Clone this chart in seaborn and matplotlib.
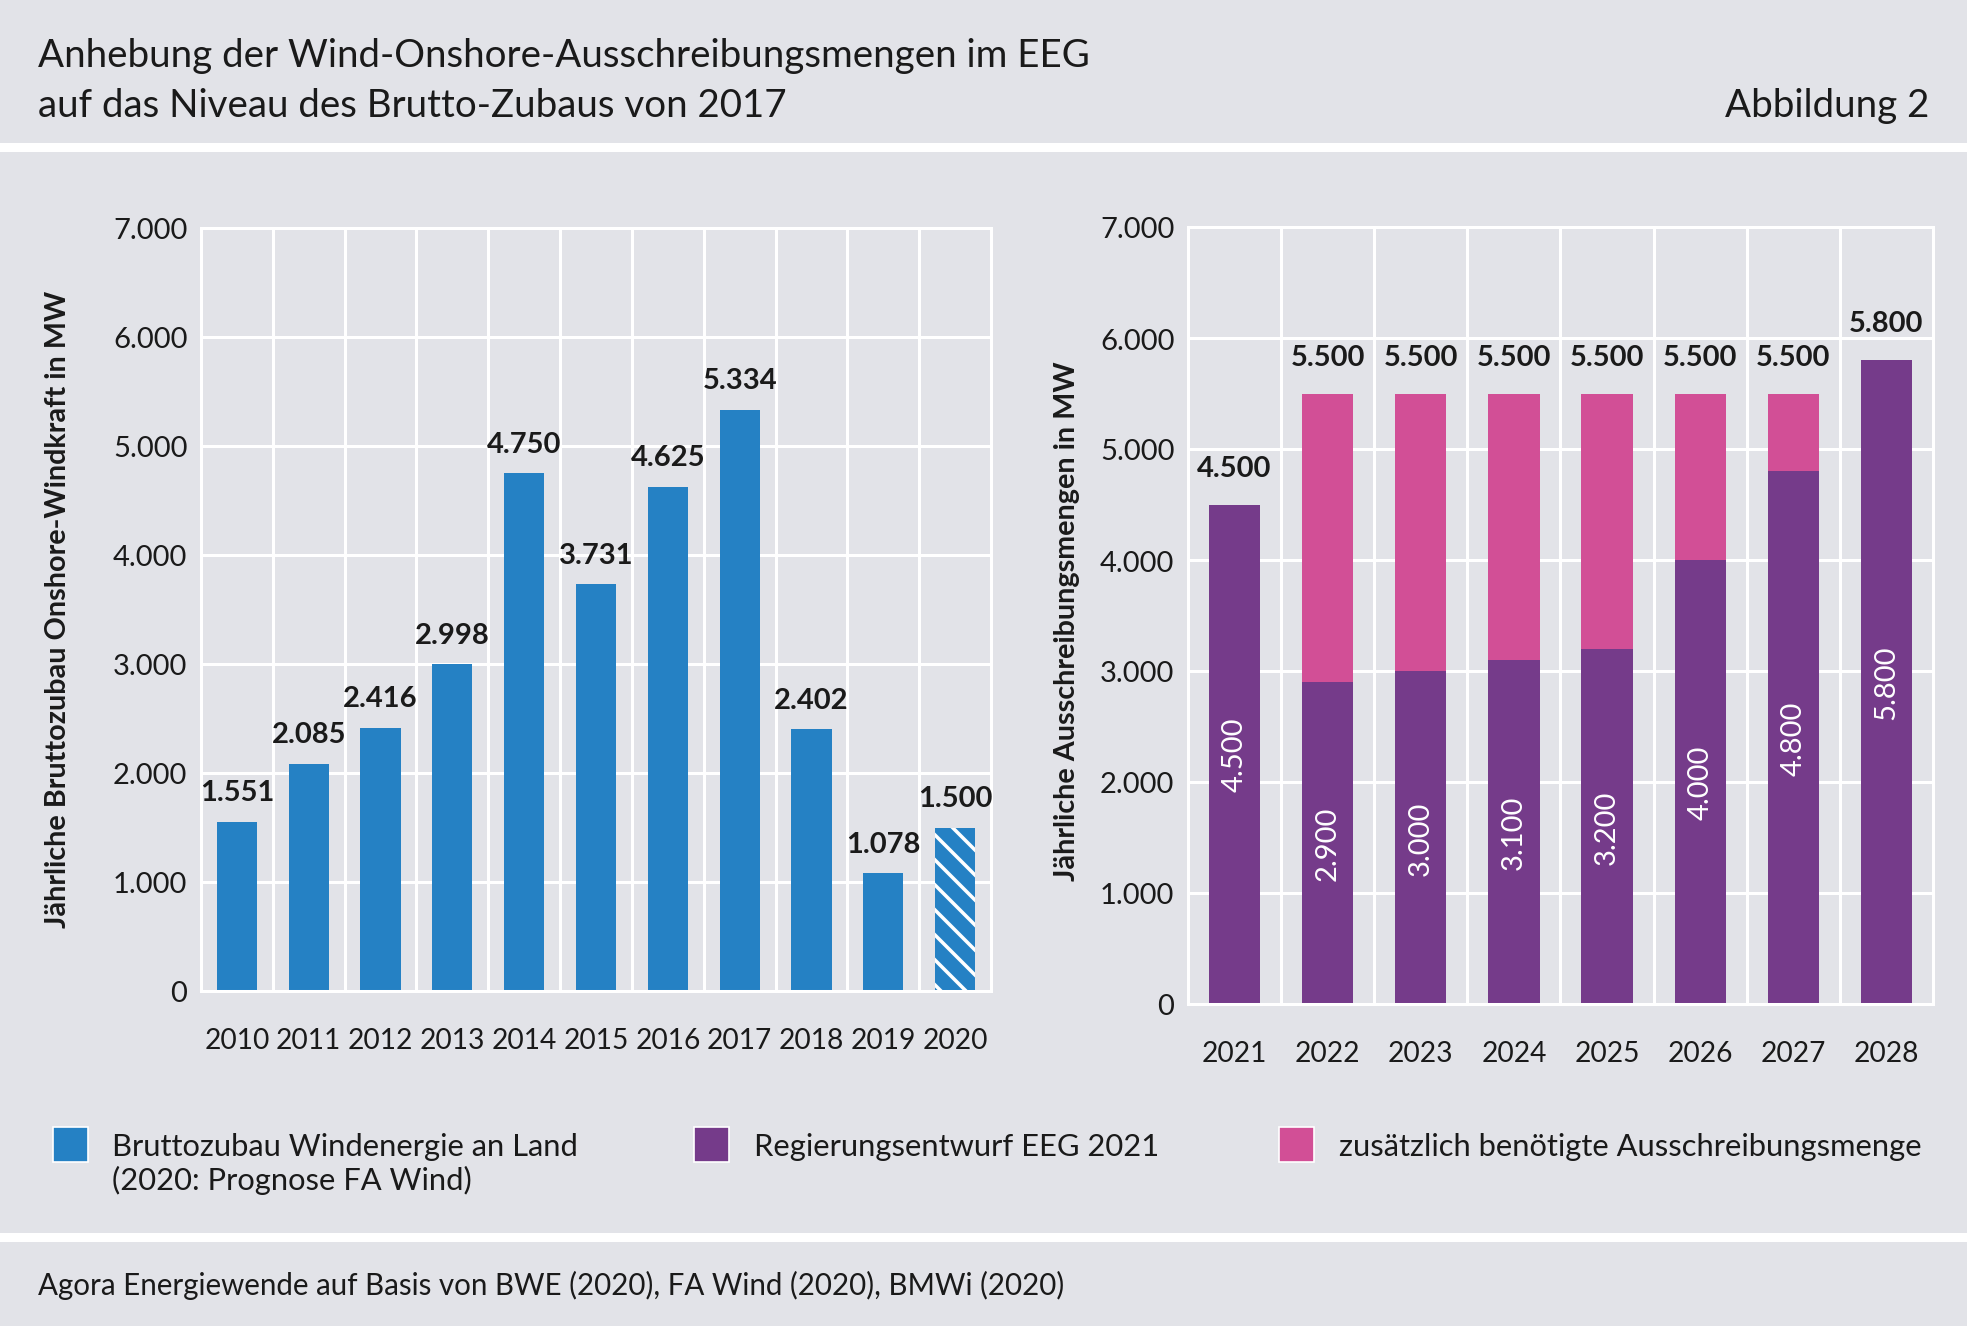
import matplotlib
matplotlib.use('Agg')
import matplotlib.pyplot as plt
import seaborn as sns
import numpy as np
from matplotlib.patches import Rectangle

# Daten
jahre_ist = ['2010', '2011', '2012', '2013', '2014', '2015', '2016', '2017', '2018', '2019', '2020']
zubau = [1551, 2085, 2416, 2998, 4750, 3731, 4625, 5334, 2402, 1078, 1500]

jahre_plan = ['2021', '2022', '2023', '2024', '2025', '2026', '2027', '2028']
regierung = [4500, 2900, 3000, 3100, 3200, 4000, 4800, 5800]
zusaetzlich = [0, 2600, 2500, 2400, 2300, 1500, 700, 0]

y_ticks = [0, 1000, 2000, 3000, 4000, 5000, 6000, 7000]

legende = ['Bruttozubau Windenergie an Land', 'Regierungsentwurf EEG 2021',
           'zusätzlich benötigte Ausschreibungsmenge']

BG = '#e2e3e8'
BLUE = '#2581c4'
PURPLE = '#753b8a'
PINK = '#d24f96'
TXT = '#1a1a1a'


def fmt(v):
    return f"{v:,}".replace(",", ".")


sns.set_theme(style='darkgrid', rc={'axes.facecolor': BG, 'figure.facecolor': BG,
                                    'grid.color': 'white', 'text.color': TXT,
                                    'xtick.color': TXT, 'ytick.color': TXT})
plt.rcParams['font.family'] = ['Lato', 'DejaVu Sans']
plt.rcParams['hatch.linewidth'] = 1.7

W, H = 1968, 1327
fig = plt.figure(figsize=(W / 150, H / 150), dpi=150, facecolor=BG)


def box(l, t, r, b):
    return [l / W, 1 - b / H, (r - l) / W, (b - t) / H]


# weisse Trennbaender
fig.add_artist(Rectangle((0, 1 - 153 / H), 1, 9 / H, transform=fig.transFigure,
                         color='white', lw=0))
fig.add_artist(Rectangle((0, 1 - 1243 / H), 1, 9 / H, transform=fig.transFigure,
                         color='white', lw=0))

ax1 = fig.add_axes(box(201, 229, 991, 992))
ax2 = fig.add_axes(box(1188, 228, 1933, 1005))

# linkes Diagramm
sns.barplot(x=jahre_ist, y=zubau, color=BLUE, saturation=1, width=0.56,
            linewidth=0, ax=ax1)
bars = ax1.containers[0]
last = bars.patches[-1]
last.set_edgecolor('white')
last.set_linewidth(0)
last.set_hatch('\\\\')
ax1.bar_label(bars, labels=[fmt(v) for v in zubau], padding=8, fontsize=14,
              fontweight='bold', color=TXT)

# rechtes Diagramm (gestapelt)
gesamt = [r + z for r, z in zip(regierung, zusaetzlich)]
sns.barplot(x=jahre_plan, y=gesamt, color=PINK, saturation=1, width=0.55,
            linewidth=0, ax=ax2)
sns.barplot(x=jahre_plan, y=regierung, color=PURPLE, saturation=1, width=0.55,
            linewidth=0, ax=ax2)
ax2.bar_label(ax2.containers[0], labels=[fmt(v) for v in gesamt], padding=11.5,
              fontsize=14, fontweight='bold', color=TXT)
ax2.bar_label(ax2.containers[1], labels=[fmt(v) for v in regierung],
              label_type='center', rotation=90, color='white', fontsize=14)


def style(ax, n):
    ax.set_ylim(0, 7000)
    ax.set_xlim(-0.5, n - 0.5)
    ax.set_yticks(y_ticks)
    ax.set_yticklabels([fmt(v) for v in y_ticks])
    ax.set_xticks(np.arange(-0.5, n), minor=True)
    ax.grid(False)
    ax.grid(axis='y', which='major', color='white', lw=1.45)
    ax.grid(axis='x', which='minor', color='white', lw=1.45)
    ax.tick_params(which='both', length=0)
    ax.tick_params(axis='y', pad=6.5, labelsize=14)
    ax.tick_params(axis='x', pad=17.5, labelsize=13.5)
    for s in ax.spines.values():
        s.set_visible(True)
        s.set_color('white')
        s.set_linewidth(1.45)
    ax.set_xlabel('')
    ax.set_ylabel('')
    ax.set_axisbelow(True)


style(ax1, len(jahre_ist))
style(ax2, len(jahre_plan))

fig.text(58 / W, 1 - 609 / H, 'Jährliche Bruttozubau Onshore-Windkraft in MW',
         rotation=90, ha='center', va='center', fontsize=13.8, fontweight='bold')
fig.text(1067 / W, 1 - 621 / H, 'Jährliche Ausschreibungsmengen in MW',
         rotation=90, ha='center', va='center', fontsize=13.8, fontweight='bold')

# Titel
fig.text(38 / W, 1 - 67 / H, 'Anhebung der Wind-Onshore-Ausschreibungsmengen im EEG',
         va='baseline', fontsize=18.5)
fig.text(38 / W, 1 - 117 / H, 'auf das Niveau des Brutto-Zubaus von 2017',
         va='baseline', fontsize=18.5)
fig.text(1929 / W, 1 - 117 / H, 'Abbildung 2', ha='right', va='baseline', fontsize=18.5)

# Legende
for col, lab, xs, xt in zip([BLUE, PURPLE, PINK], legende, [53, 694, 1279], [112, 754, 1339]):
    fig.add_artist(Rectangle((xs / W, 1 - 1163 / H), 35 / W, 35 / H,
                             transform=fig.transFigure, facecolor=col,
                             edgecolor='white', lw=0.8))
    fig.text(xt / W, 1 - 1156 / H, lab, va='baseline', fontsize=14.8)
fig.text(112 / W, 1 - 1190 / H, '(2020: Prognose FA Wind)', va='baseline', fontsize=14.8)

# Quelle
fig.text(38 / W, 1 - 1295 / H,
         'Agora Energiewende auf Basis von BWE (2020), FA Wind (2020), BMWi (2020)',
         va='baseline', fontsize=14.2)

fig.savefig('out.png', dpi=150, facecolor=BG)
